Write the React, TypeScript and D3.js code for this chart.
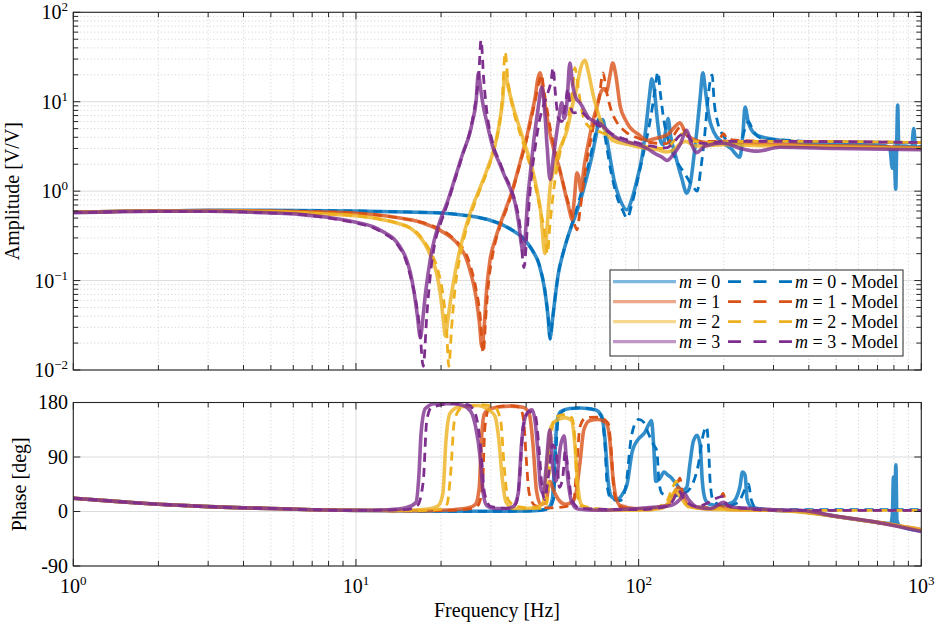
import React from "react";
import * as d3 from "d3";

type P = [number, number];

const massLabels = ["0", "1", "2", "3"];
const colors = ["#0072BD", "#D95319", "#EDB120", "#7E2F8E"];
const ampExponents = [-2, -1, 0, 1, 2];
const freqExponents = [0, 1, 2, 3];
const phaseTicks = [-90, 0, 90, 180];

// ---------- Amplitude [V/V] ----------
const ampMeas0: P[] = [[1,0.58],[1.5,0.595],[2,0.6],[3,0.61],[5,0.61],[10,0.6],[15,0.585],[20,0.57],[25,0.53],[30,0.47],[33,0.42],[36,0.36],[39,0.3],[42,0.22],[44.5,0.15],[46.5,0.08],[47.8,0.04],[48.6,0.023],[49.5,0.035],[50.5,0.06],[52,0.12],[54,0.2],[56,0.3],[59,0.48],[62,0.75],[65,1.3],[68,2.3],[70.5,4],[72.5,6],[74.5,6.3],[76.5,4.5],[79,2.5],[82,1.3],[86,0.8],[90.9,0.62],[95,0.85],[99,1.4],[103,2.5],[106,5],[109,11],[111.4,18],[113.5,14],[116,7],[119,3.8],[122,3.3],[125,5],[127,6.5],[130,4],[135,2.5],[142,1.4],[148,0.95],[153,1.3],[157,2.5],[161,5],[165,11],[168.8,21],[172,14],[177,7],[185,4.5],[199,3.46],[212,3.0],[228,2.4],[234,4.5],[238,8.7],[244,6],[257,4.4],[275,4.0],[300,3.8],[372,3.5],[413,3.35],[558,3.3],[713,3.25],[773,3.1],[790,1.8],[800,3.2],[812,1.05],[818,3],[825,9.2],[832,3.2],[880,3.2],[925,3.1],[940,5],[955,3.1],[1000,3.15]];
const ampModel0: P[] = [[1,0.58],[1.5,0.595],[2,0.6],[3,0.61],[5,0.61],[10,0.6],[15,0.585],[20,0.57],[25,0.53],[30,0.47],[33,0.42],[36,0.36],[39,0.3],[42,0.22],[44.5,0.15],[46.5,0.08],[47.8,0.04],[48.6,0.022],[49.5,0.035],[50.5,0.06],[52,0.12],[54,0.2],[56,0.3],[59,0.5],[62,0.85],[65,1.5],[68,2.7],[70.5,4.6],[72.5,6.7],[74.5,5.8],[77,3.2],[80,1.6],[84,0.85],[88,0.6],[91,0.5],[95,0.75],[99,1.3],[103,2.3],[107,4],[111,7.5],[114,13],[117,21.5],[119.5,12],[123,6],[128,3.5],[135,2.3],[145,1.6],[155,1.15],[161,1.0],[166,1.8],[171,4],[175,9],[179,17],[182,20],[185,10],[190,6],[198,4.3],[210,3.6],[228,3.4],[238,5],[245,6],[252,5],[262,4.2],[280,3.8],[316,3.75],[400,3.6],[600,3.55],[1000,3.5]];
const ampMeas1: P[] = [[1,0.58],[1.5,0.595],[2,0.6],[3,0.605],[5,0.6],[7.5,0.585],[10,0.565],[12,0.54],[14.3,0.5],[16.5,0.46],[18.3,0.41],[20,0.36],[21.5,0.31],[23.3,0.24],[24.5,0.18],[25.5,0.12],[26.5,0.07],[27.3,0.035],[27.9,0.018],[28.4,0.03],[29,0.08],[29.8,0.17],[31,0.28],[32.3,0.42],[34,0.65],[35.5,0.95],[37,1.5],[38.5,2.4],[40,3.8],[41.5,6.5],[43,11],[44,18],[44.8,21],[45.8,14],[47,8],[48.5,4.5],[50,3],[52.6,1.73],[55,0.95],[57,0.6],[58,0.48],[59.2,0.8],[60.5,1.6],[61.5,1.4],[62.5,1.0],[64,1.8],[67,4],[69,6.2],[71,8.5],[73,12],[75,14],[77,13],[79,19],[81,27],[83,20],[86,9],[90,6.2],[93,5.2],[100,4.3],[107,3.7],[112,3.8],[119,4.0],[128,4.4],[134,5.2],[140,5.8],[146,4.6],[152,4.0],[165,3.6],[183,3.46],[200,3.6],[240,3.45],[300,3.35],[400,3.25],[600,3.2],[1000,3.05]];
const ampModel1: P[] = [[1,0.58],[1.5,0.595],[2,0.6],[3,0.605],[5,0.6],[7.5,0.585],[10,0.565],[12,0.54],[14.3,0.5],[16.5,0.46],[18.3,0.42],[20,0.37],[21.5,0.32],[23.3,0.25],[24.5,0.2],[25.5,0.14],[26.5,0.085],[27.5,0.04],[28.2,0.0155],[28.8,0.04],[29.5,0.1],[30.5,0.2],[32.3,0.4],[34,0.62],[35.5,0.92],[37,1.45],[38.5,2.3],[40,3.6],[41.5,6],[43,10],[44.3,16],[45.3,20],[46.3,13],[47.5,8],[49,4.5],[51,2.6],[53.5,1.4],[56,0.8],[58.5,0.5],[60.5,0.37],[62,0.6],[64,1.3],[66,2.5],[68,4],[70,6.5],[72.5,11],[74.8,21],[77,13],[80,8],[84,5.8],[90,4.6],[100,3.9],[110,3.5],[125,3.4],[133,4.2],[138,5],[142,5.3],[148,4.2],[160,3.6],[190,3.6],[200,4.4],[206,3.8],[250,3.65],[400,3.6],[1000,3.5]];
const ampMeas2: P[] = [[1,0.58],[1.5,0.595],[2,0.6],[3,0.6],[5,0.59],[7.5,0.56],[10,0.53],[12,0.49],[14.3,0.43],[15.5,0.39],[16.5,0.33],[17.5,0.26],[18.5,0.18],[19.3,0.12],[19.9,0.07],[20.4,0.035],[20.7,0.024],[21.1,0.035],[21.6,0.06],[22.4,0.12],[23.3,0.22],[24.3,0.37],[25.5,0.6],[27.5,1.1],[29,1.7],[30.5,2.67],[31.5,4],[32.3,6.25],[33,10],[33.7,21],[34.5,15],[35.9,9],[38,5],[40,3],[42,1.8],[43.5,1.1],[45,0.6],[46.6,0.2],[47.6,0.45],[48.6,1.1],[50,1.7],[52.7,3],[55.8,4.8],[58,8.5],[60.5,14.6],[62,22],[64.5,29],[66.5,21],[69,12],[72.9,6.5],[77,4.5],[81,3.7],[93,3.3],[107,3.0],[117,2.9],[125,2.75],[133,2.9],[140,3.4],[147,3.6],[158,3.2],[200,3.3],[300,3.2],[600,3.1],[1000,3.0]];
const ampModel2: P[] = [[1,0.58],[1.5,0.595],[2,0.6],[3,0.6],[5,0.59],[7.5,0.56],[10,0.53],[12,0.49],[14.3,0.43],[15.5,0.39],[16.5,0.34],[17.5,0.27],[18.5,0.2],[19.5,0.13],[20.3,0.07],[20.9,0.03],[21.3,0.011],[21.8,0.03],[22.4,0.08],[23.3,0.18],[24.3,0.33],[25.5,0.55],[27.5,1.05],[29,1.6],[30.5,2.6],[31.5,3.9],[32.3,6],[33,12],[33.7,36],[34.5,17],[35.9,8.5],[38,4.5],[40,2.7],[42,1.6],[43.5,1.0],[45,0.6],[46.5,0.35],[47.6,0.2],[48.5,0.4],[50,1.0],[52,2.2],[55,4.5],[57,8],[58.5,14],[59.5,24],[61,15],[62.5,9],[64,6.5],[67,5.2],[73,4.6],[81,4],[93,3.5],[110,3.1],[125,3.0],[133,3.6],[140,4.2],[146,4.5],[155,3.7],[170,3.5],[250,3.6],[400,3.6],[1000,3.5]];
const ampMeas3: P[] = [[1,0.575],[1.5,0.59],[2,0.595],[3,0.595],[4,0.585],[5,0.57],[6.3,0.55],[7.5,0.52],[9,0.48],[10,0.45],[11.5,0.4],[12.5,0.35],[13.5,0.3],[14.3,0.24],[15,0.18],[15.6,0.12],[16.1,0.07],[16.5,0.04],[16.9,0.023],[17.2,0.035],[17.6,0.07],[18.3,0.17],[19,0.3],[20,0.5],[21,0.74],[22.4,1.4],[23.9,2.67],[25.3,4.5],[25.9,6.25],[26.6,10],[27.1,21],[27.6,14],[28.2,9],[29,6],[30.5,3.1],[32.3,2.0],[33.5,1.5],[35,1.1],[36.5,0.75],[37.6,0.45],[38.5,0.25],[39.1,0.2],[39.8,0.35],[40.5,0.8],[41.3,1.5],[42.5,3.5],[44,8],[45.5,14.6],[46.5,8],[47.5,3],[48.6,1.35],[50,2.5],[52,6],[53.5,9.7],[54.5,6.5],[55.8,10],[57.1,27],[58.5,15],[60,11],[62,9.7],[67,6.5],[73,5.7],[81,4.2],[93,3.5],[100,3.3],[107,3.0],[115,2.6],[121,2.4],[126,2.2],[133,2.6],[140,3.3],[148,4.8],[153,3.5],[160,2.7],[172,3.2],[199,3.45],[230,3.0],[262,2.8],[316,3.1],[500,3.0],[1000,2.9]];
const ampModel3: P[] = [[1,0.575],[1.5,0.59],[2,0.595],[3,0.595],[4,0.585],[5,0.57],[6.3,0.55],[7.5,0.515],[9,0.47],[10,0.44],[11.5,0.39],[12.5,0.34],[13.5,0.29],[14.3,0.23],[15,0.17],[15.6,0.11],[16.2,0.065],[16.8,0.03],[17.3,0.011],[17.8,0.04],[18.4,0.13],[19,0.26],[20,0.45],[21,0.7],[22.4,1.35],[23.9,2.6],[25.3,4.6],[25.9,6.5],[26.6,11],[27.2,20],[27.7,49],[28.3,18],[29,8],[30.5,3.4],[32.3,2.1],[33.5,1.55],[35,1.15],[36.5,0.78],[38,0.42],[39.3,0.14],[40.3,0.35],[41.5,1.2],[43,3],[44.5,6],[46,9],[47.5,12],[49,17],[49.8,24],[50.8,12],[52,6.5],[53.5,6],[55,9],[56.2,14],[57.3,9],[59,7.5],[62,7.8],[67,6.3],[73,5.3],[81,4.3],[95,3.6],[110,3.2],[125,3.05],[133,3.5],[140,4.2],[147,4.4],[155,3.6],[175,3.4],[200,3.6],[300,3.6],[1000,3.5]];

// ---------- Phase [deg] ----------
const phMeas0: P[] = [[1,22],[1.3,18],[1.7,14],[2,12],[3,8],[4,6],[5,5],[7,3],[10,1.8],[14,1.2],[20,0.5],[30,0.3],[40,0.8],[45,2],[48,6],[49.5,20],[50.5,90],[51.5,150],[53,165],[57,170],[62,171],[70,168],[74,158],[76,120],[78,50],[80,25],[84,20],[88,30],[91,45],[95,100],[100,120],[105,130],[109,145],[111,150],[113,110],[115,50],[119,55],[123,65],[127,60],[131,55],[136,45],[143,35],[148,40],[152,80],[156,115],[161,126],[165,110],[168,50],[172,20],[178,12],[195,10],[215,15],[228,40],[233,65],[238,60],[242,20],[250,8],[280,3],[372,0],[500,-8],[700,-18],[780,-20],[790,-5],[797,57],[804,-20],[813,77],[820,-15],[840,-24],[1000,-32]];
const phModel0: P[] = [[1,22],[1.3,18],[1.7,14],[2,12],[3,8],[4,6],[5,5],[7,3],[10,1.8],[14,1.2],[20,0.5],[30,0.3],[40,0.8],[45,2],[48,5],[50,20],[51,100],[52,155],[55,168],[62,171],[70,168],[74,155],[76,110],[77.5,40],[80,20],[86,18],[90,40],[94,120],[97,145],[100,152],[104,148],[108,130],[113,110],[116,100],[118,50],[121,30],[130,25],[145,30],[155,45],[163,80],[168,120],[174,140],[177,100],[179,50],[183,20],[200,8],[225,15],[240,40],[245,45],[250,20],[260,6],[300,3],[1000,3]];
const phMeas1: P[] = [[1,22],[1.3,18],[1.7,14],[2,12],[3,8],[4,6],[5,5],[7,3],[10,1.8],[14,1.2],[18,1.5],[22,3],[25,6],[26.5,12],[27.3,40],[27.8,120],[28.5,162],[30,170],[35,174],[39,172],[41,162],[42.3,110],[43.5,35],[45,12],[47,15],[48.5,50],[50,35],[52,20],[55,12],[58,15],[60,30],[62,80],[64,135],[67,150],[72,152],[77,145],[79,120],[81,60],[83,25],[86,10],[100,4],[115,6],[125,10],[133,25],[138,40],[142,30],[150,10],[180,4],[198,8],[205,4],[300,2],[372,0],[500,-8],[700,-18],[1000,-30]];
const phModel1: P[] = [[1,22],[1.3,18],[1.7,14],[2,12],[3,8],[4,6],[5,5],[7,3],[10,1.8],[14,1.2],[20,1.5],[25,4],[27,10],[28,40],[28.6,140],[29.5,168],[35,175],[38,172],[39.2,150],[40,90],[41,30],[43,10],[48,6],[55,8],[59,20],[60.5,80],[62,140],[65,155],[72,156],[78,146],[80,100],[82,30],[86,8],[100,3],[125,8],[135,35],[140,55],[143,30],[150,10],[190,6],[199,30],[204,12],[215,4],[300,2],[1000,2]];
const phMeas2: P[] = [[1,22],[1.3,18],[1.7,14],[2,12],[3,8],[4,6],[5,5],[7,3],[10,2],[15,2],[18,4],[19.5,9],[20.3,30],[20.8,115],[21.5,162],[23,172],[27,175],[29,170],[31,158],[32,120],[33,50],[34,15],[36,5],[40,5],[44,8],[46,15],[47.5,80],[49,140],[51,150],[55,155],[58,150],[59.5,110],[61,40],[63,10],[70,3],[100,2],[120,5],[130,20],[135,35],[140,25],[150,8],[200,3],[300,2],[500,-8],[700,-18],[1000,-30]];
const phModel2: P[] = [[1,22],[1.3,18],[1.7,14],[2,12],[3,8],[4,6],[5,5],[7,3],[10,1.8],[14,1.2],[18,2],[20,4],[21,12],[21.6,60],[22.3,150],[23.5,170],[28,176],[31,172],[32.5,150],[33.5,70],[34.5,20],[37,8],[45,5],[47,10],[48,40],[49,120],[50.5,155],[55,160],[58,155],[59.5,120],[60.5,40],[62,10],[80,3],[110,5],[125,15],[132,40],[136,50],[140,30],[150,10],[200,5],[300,2],[1000,2]];
const phMeas3: P[] = [[1,22],[1.3,18],[1.7,14],[2,12],[3,8],[4,6],[5,5],[7,3],[10,2],[13,3],[15,6],[16.3,15],[16.7,60],[17,130],[17.6,170],[19,178],[22,178],[24,175],[25.5,165],[26.5,140],[27.5,90],[28.2,30],[29,10],[31,5],[34,5],[36,8],[37.5,30],[38.5,110],[40,160],[42,168],[43,150],[44,100],[45,40],[46,30],[47,70],[48.5,135],[49.5,80],[51,50],[53,110],[54.5,125],[56,60],[58,15],[61,4],[72,2],[100,5],[120,8],[130,10],[140,20],[145,30],[150,20],[160,8],[180,5],[200,15],[210,8],[250,5],[300,3],[372,2],[500,-8],[700,-18],[1000,-33]];
const phModel3: P[] = [[1,22],[1.3,18],[1.7,14],[2,12],[3,8],[4,6],[5,5],[7,3],[10,1.8],[15,3],[16.5,10],[17.3,50],[17.8,150],[18.5,172],[22,178],[25,176],[26.5,160],[27.7,100],[28.5,30],[30,8],[35,5],[37,15],[38,60],[39,140],[41,165],[43,160],[44.5,100],[45.5,40],[46.5,20],[48,60],[49.5,110],[51,100],[52.5,40],[54,60],[55,100],[56.5,60],[58,20],[62,5],[100,3],[125,8],[133,20],[138,35],[145,20],[160,8],[200,25],[205,10],[300,2],[1000,2]];

const ampMeas = [ampMeas0, ampMeas1, ampMeas2, ampMeas3];
const ampModel = [ampModel0, ampModel1, ampModel2, ampModel3];
const phMeas = [phMeas0, phMeas1, phMeas2, phMeas3];
const phModel = [phModel0, phModel1, phModel2, phModel3];

const FONT = "'Liberation Serif', 'Times New Roman', serif";
const AX = "#262626";
const GRID = "#dcdcdc";
const MINOR = "#c4c4c4";

export default function App() {
  const W = 936, H = 625;
  const L = 73.3, R = 921.3;
  const aT = 12.3, aB = 370, pT = 402.5, pB = 566;
  const x = d3.scaleLog().domain([1, 1000]).range([L, R]);
  const yA = d3.scaleLog().domain([0.01, 100]).range([aB, aT]);
  const yP = d3.scaleLinear().domain([-90, 180]).range([pB, pT]);
  const lineA = d3.line<P>().x(d => x(d[0])).y(d => yA(d[1])).curve(d3.curveMonotoneX);
  const lineP = d3.line<P>().x(d => x(d[0])).y(d => yP(d[1])).curve(d3.curveMonotoneX);

  const minorX: number[] = [];
  for (const e of [0, 1, 2]) for (let k = 2; k <= 9; k++) minorX.push(k * Math.pow(10, e));
  const minorA: number[] = [];
  for (const e of [-2, -1, 0, 1]) for (let k = 2; k <= 9; k++) minorA.push(k * Math.pow(10, e));
  const majorX = freqExponents.map(e => Math.pow(10, e));
  const majorA = ampExponents.map(e => Math.pow(10, e));

  const MAJ = 7, MIN = 5;

  const xGrid = (top: number, bot: number, key: string) => (
    <g key={key}>
      {minorX.map((v, i) => (
        <line key={"mx" + i} x1={x(v)} x2={x(v)} y1={top} y2={bot} stroke={MINOR} strokeWidth={0.8} strokeDasharray="1,2.5" />
      ))}
      {majorX.map((v, i) => (
        <line key={"Mx" + i} x1={x(v)} x2={x(v)} y1={top} y2={bot} stroke={GRID} strokeWidth={1} />
      ))}
    </g>
  );

  const xTicks = (top: number, bot: number) => (
    <g>
      {minorX.map((v, i) => (
        <g key={"tx" + i}>
          <line x1={x(v)} x2={x(v)} y1={bot} y2={bot - MIN} stroke={AX} strokeWidth={1} />
          <line x1={x(v)} x2={x(v)} y1={top} y2={top + MIN} stroke={AX} strokeWidth={1} />
        </g>
      ))}
      {majorX.map((v, i) => (
        <g key={"TX" + i}>
          <line x1={x(v)} x2={x(v)} y1={bot} y2={bot - MAJ} stroke={AX} strokeWidth={1} />
          <line x1={x(v)} x2={x(v)} y1={top} y2={top + MAJ} stroke={AX} strokeWidth={1} />
        </g>
      ))}
    </g>
  );

  const yTicksAt = (ys: number[], len: number, key: string) => (
    <g key={key}>
      {ys.map((yy, i) => (
        <g key={i}>
          <line x1={L} x2={L + len} y1={yy} y2={yy} stroke={AX} strokeWidth={1} />
          <line x1={R} x2={R - len} y1={yy} y2={yy} stroke={AX} strokeWidth={1} />
        </g>
      ))}
    </g>
  );

  return (
    <svg width={W} height={H} viewBox={`0 0 ${W} ${H}`} style={{ position: "absolute", left: 0, top: 0, background: "#fff" }} fontFamily={FONT}>
      <defs>
        <clipPath id="clipA"><rect x={L} y={aT} width={R - L} height={aB - aT} /></clipPath>
        <clipPath id="clipP"><rect x={L} y={pT} width={R - L} height={pB - pT} /></clipPath>
      </defs>
      <rect x={0} y={0} width={W} height={H} fill="#fff" />

      {/* ===== Amplitude panel ===== */}
      {xGrid(aT, aB, "ga")}
      {minorA.map((v, i) => (
        <line key={"ma" + i} x1={L} x2={R} y1={yA(v)} y2={yA(v)} stroke={MINOR} strokeWidth={0.8} strokeDasharray="1,2.5" />
      ))}
      {majorA.map((v, i) => (
        <line key={"Ma" + i} x1={L} x2={R} y1={yA(v)} y2={yA(v)} stroke={GRID} strokeWidth={1} />
      ))}
      <g clipPath="url(#clipA)" fill="none" strokeLinejoin="round" strokeLinecap="butt">
        {massLabels.map((m, i) => (
          <g key={"ca" + i}>
            <path d={lineA(ampMeas[i]) || ""} stroke={colors[i]} strokeWidth={3.6} strokeOpacity={0.8} />
            <path d={lineA(ampModel[i]) || ""} stroke={colors[i]} strokeWidth={2.8} strokeDasharray="9,6" />
          </g>
        ))}
      </g>
      <rect x={L} y={aT} width={R - L} height={aB - aT} fill="none" stroke={AX} strokeWidth={1.1} />
      {xTicks(aT, aB)}
      {yTicksAt(minorA.map(v => yA(v)), MIN, "tya")}
      {yTicksAt(majorA.map(v => yA(v)), MAJ, "TYA")}
      {ampExponents.map((e, i) => (
        <text key={"la" + i} x={68} y={yA(Math.pow(10, e)) + 7} fontSize={20} textAnchor="end" fill="#000">
          10<tspan fontSize={13} dy={-8}>{String(e).replace("-", "\u2212")}</tspan>
        </text>
      ))}
      <text transform={`translate(19,${(aT + aB) / 2}) rotate(-90)`} fontSize={20} textAnchor="middle" fill="#000">Amplitude [V/V]</text>

      {/* Legend */}
      <g>
        <rect x={610} y={270} width={293} height={86} fill="#fff" stroke={AX} strokeWidth={1} />
        {massLabels.map((m, i) => {
          const yy = 281.7 + i * 20;
          return (
            <g key={"lg" + i}>
              <line x1={613} x2={676} y1={yy} y2={yy} stroke={colors[i]} strokeWidth={3.2} strokeOpacity={0.5} />
              <text x={679} y={yy + 6} fontSize={18} fill="#000"><tspan fontStyle="italic">m</tspan> = {m}</text>
              <line x1={728} x2={792} y1={yy} y2={yy} stroke={colors[i]} strokeWidth={2.8} strokeDasharray="13,12.5" />
              <text x={795} y={yy + 6} fontSize={18} fill="#000"><tspan fontStyle="italic">m</tspan> = {m} - Model</text>
            </g>
          );
        })}
      </g>

      {/* ===== Phase panel ===== */}
      {xGrid(pT, pB, "gp")}
      {phaseTicks.map((v, i) => (
        <line key={"Mp" + i} x1={L} x2={R} y1={yP(v)} y2={yP(v)} stroke={GRID} strokeWidth={1} />
      ))}
      <g clipPath="url(#clipP)" fill="none" strokeLinejoin="round" strokeLinecap="butt">
        {massLabels.map((m, i) => (
          <g key={"cp" + i}>
            <path d={lineP(phMeas[i]) || ""} stroke={colors[i]} strokeWidth={3.6} strokeOpacity={0.8} />
            <path d={lineP(phModel[i]) || ""} stroke={colors[i]} strokeWidth={2.8} strokeDasharray="9,6" />
          </g>
        ))}
      </g>
      <rect x={L} y={pT} width={R - L} height={pB - pT} fill="none" stroke={AX} strokeWidth={1.1} />
      {xTicks(pT, pB)}
      {yTicksAt(phaseTicks.map(v => yP(v)), MAJ, "TYP")}
      {phaseTicks.map((v, i) => (
        <text key={"lp" + i} x={68} y={yP(v) + 6.5} fontSize={20} textAnchor="end" fill="#000">{v}</text>
      ))}
      <text transform={`translate(25.5,${(pT + pB) / 2}) rotate(-90)`} fontSize={20} textAnchor="middle" fill="#000">Phase [deg]</text>

      {freqExponents.map((e, i) => (
        <text key={"lx" + i} x={x(Math.pow(10, e))} y={593} fontSize={20} textAnchor="middle" fill="#000">
          10<tspan fontSize={13} dy={-8}>{e}</tspan>
        </text>
      ))}
      <text x={497} y={617} fontSize={20} textAnchor="middle" fill="#000">Frequency [Hz]</text>
    </svg>
  );
}
